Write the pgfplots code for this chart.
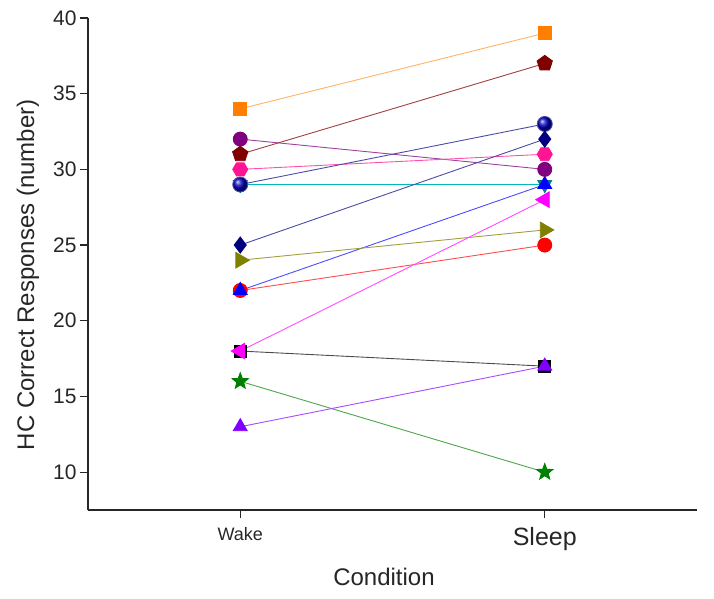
\documentclass[border=0pt]{standalone}
\usepackage{pgfplots}
\pgfplotsset{compat=1.18}
\usepackage{fontspec}
\setmainfont{Liberation Sans}
\usetikzlibrary{plotmarks}

\definecolor{cOrange}{HTML}{FF8000}
\definecolor{cPurple}{HTML}{800080}
\definecolor{cDarkRed}{HTML}{800000}
\definecolor{cPink}{HTML}{FF1493}
\definecolor{cNavy}{HTML}{000080}
\definecolor{cTeal}{HTML}{008080}
\definecolor{cOlive}{HTML}{808000}
\definecolor{cBlue}{HTML}{0000FF}
\definecolor{cRed}{HTML}{FF0000}
\definecolor{cMagenta}{HTML}{FF00FF}
\definecolor{cGreen}{HTML}{008000}
\definecolor{cViolet}{HTML}{8000FF}

% filled five-point star
\pgfdeclareplotmark{fstar}{%
  \pgfpathmoveto{\pgfpointpolar{90}{\pgfplotmarksize}}%
  \pgfpathlineto{\pgfpointpolar{126}{0.42\pgfplotmarksize}}%
  \pgfpathlineto{\pgfpointpolar{162}{\pgfplotmarksize}}%
  \pgfpathlineto{\pgfpointpolar{198}{0.42\pgfplotmarksize}}%
  \pgfpathlineto{\pgfpointpolar{234}{\pgfplotmarksize}}%
  \pgfpathlineto{\pgfpointpolar{270}{0.42\pgfplotmarksize}}%
  \pgfpathlineto{\pgfpointpolar{306}{\pgfplotmarksize}}%
  \pgfpathlineto{\pgfpointpolar{342}{0.42\pgfplotmarksize}}%
  \pgfpathlineto{\pgfpointpolar{18}{\pgfplotmarksize}}%
  \pgfpathlineto{\pgfpointpolar{54}{0.42\pgfplotmarksize}}%
  \pgfpathclose
  \pgfusepathqfillstroke
}
% filled hexagon
\pgfdeclareplotmark{fhex}{%
  \pgfpathmoveto{\pgfpointpolar{0}{\pgfplotmarksize}}%
  \pgfpathlineto{\pgfpointpolar{60}{\pgfplotmarksize}}%
  \pgfpathlineto{\pgfpointpolar{120}{\pgfplotmarksize}}%
  \pgfpathlineto{\pgfpointpolar{180}{\pgfplotmarksize}}%
  \pgfpathlineto{\pgfpointpolar{240}{\pgfplotmarksize}}%
  \pgfpathlineto{\pgfpointpolar{300}{\pgfplotmarksize}}%
  \pgfpathclose
  \pgfusepathqfillstroke
}

\begin{document}
\begin{tikzpicture}
\begin{axis}[
    scale only axis,
    width=609pt, height=492pt,
    xmin=0.5, xmax=2.5,
    ymin=7.5, ymax=40,
    axis x line=bottom, axis y line=left,
    axis line style={-, line width=1.6pt, black!85},
    tick align=outside,
    major tick length=8pt,
    tick style={line width=1.2pt, black!85},
    xtick={1,2},
    xticklabels={{\fontsize{18}{18}\selectfont Wake},{\fontsize{25}{25}\selectfont Sleep}},
    x tick label style={yshift=-6pt},
    ytick={10,15,...,40},
    tick label style={font=\fontsize{21}{21}\selectfont, text=black!85},
    /pgf/number format/assume math mode=true,
    xlabel={Condition},
    ylabel={HC Correct Responses (number)},
    label style={font=\fontsize{24}{24}\selectfont, text=black!85},
    xlabel style={at={(axis description cs:0.486,0)}, anchor=center, yshift=-67pt},
    ylabel style={at={(axis description cs:-0.0985,0.478)}, anchor=center},
    clip=false,
    every axis plot/.append style={line width=0.9pt},
]
% black square 18 -> 17
\addplot[color=black!70, mark=square*, mark size=6pt, mark options={fill=black, draw=black}] coordinates {(1,18) (2,17)};
% red circle 22 -> 25
\addplot[color=cRed!70, mark=*, mark size=7pt, mark options={fill=cRed, draw=cRed}] coordinates {(1,22) (2,25)};
% teal down triangle 29 -> 29
\addplot[color=cTeal!55!cyan, mark=triangle*, mark size=8pt, mark options={rotate=180, fill=cTeal, draw=cTeal}] coordinates {(1,29) (2,29)};
% blue triangle 22 -> 29
\addplot[color=cBlue!70, mark=triangle*, mark size=8pt, mark options={fill=cBlue, draw=cBlue}] coordinates {(1,22) (2,29)};
% orange square 34 -> 39
\addplot[color=cOrange!60, mark=square*, mark size=6.5pt, mark options={fill=cOrange, draw=cOrange}] coordinates {(1,34) (2,39)};
% purple circle 32 -> 30
\addplot[color=cPurple!75, mark=*, mark size=7pt, mark options={fill=cPurple, draw=cPurple}] coordinates {(1,32) (2,30)};
% dark red pentagon 31 -> 37
\addplot[color=cDarkRed!75, mark=pentagon*, mark size=8pt, mark options={fill=cDarkRed, draw=cDarkRed}] coordinates {(1,31) (2,37)};
% pink hexagon 30 -> 31
\addplot[color=cPink!75, mark=fhex, mark size=7.5pt, mark options={fill=cPink, draw=cPink}] coordinates {(1,30) (2,31)};
% navy ball 29 -> 33
\addplot[color=cNavy!70, mark=ball, mark size=7.5pt, mark options={ball color=blue!75!black}] coordinates {(1,29) (2,33)};
% navy diamond 25 -> 32
\addplot[color=cNavy!70, mark=diamond*, mark size=8pt, mark options={fill=cNavy, draw=cNavy}] coordinates {(1,25) (2,32)};
% olive right triangle 24 -> 26
\addplot[color=cOlive!75, mark=triangle*, mark size=9pt, mark options={rotate=-90, fill=cOlive, draw=cOlive}] coordinates {(1,24) (2,26)};
% magenta left triangle 18 -> 28
\addplot[color=cMagenta!70, mark=triangle*, mark size=9pt, mark options={rotate=90, fill=cMagenta, draw=cMagenta}] coordinates {(1,18) (2,28)};
% green star 16 -> 10
\addplot[color=cGreen!70, mark=fstar, mark size=8.5pt, mark options={fill=cGreen, draw=cGreen}] coordinates {(1,16) (2,10)};
% violet triangle 13 -> 17
\addplot[color=cViolet!70, mark=triangle*, mark size=8pt, mark options={fill=cViolet, draw=cViolet}] coordinates {(1,13) (2,17)};
\end{axis}
\path (current axis.south west) ++(-88pt,-89pt) rectangle ++(714pt,599pt);
\end{tikzpicture}
\end{document}
